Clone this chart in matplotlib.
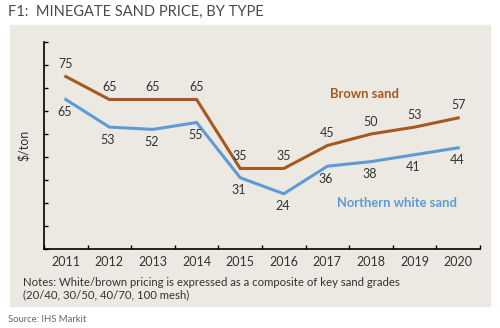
import matplotlib.pyplot as plt
from matplotlib.patches import Rectangle

years = ['2011', '2012', '2013', '2014', '2015', '2016', '2017', '2018', '2019', '2020']
brown = [75, 65, 65, 65, 35, 35, 45, 50, 53, 57]
white = [65, 53, 52, 55, 31, 24, 36, 38, 41, 44]

brown_col = '#a4591f'
blue_col = '#5e9bd6'
panel_col = '#ebe9e2'

plt.rcParams['font.family'] = ['Lato', 'DejaVu Sans']

fig = plt.figure(figsize=(5, 3.28), dpi=100)
W, H = 500, 328

# beige panel behind the chart
fig.patches.append(Rectangle((10 / W, 1 - 306 / H), 480 / W, 281 / H,
                             transform=fig.transFigure, color=panel_col, zorder=-5))

ax = fig.add_axes([44 / W, 1 - 249 / H, 436 / W, 207 / H])
ax.set_zorder(2)
ax.set_facecolor('none')
x = list(range(len(years)))
ax.plot(x, brown, color=brown_col, lw=2.2, solid_joinstyle='miter')
ax.plot(x, white, color=blue_col, lw=2.2, solid_joinstyle='miter')

for i, v in enumerate(brown):
    ax.annotate(str(v), (i, v), xytext=(0, 9), textcoords='offset points',
                ha='center', va='center', fontsize=9, color='#333333')
for i, v in enumerate(white):
    ax.annotate(str(v), (i, v), xytext=(-1, -9), textcoords='offset points',
                ha='center', va='center', fontsize=9, color='#333333')

ax.text(6.86, 67.4, 'Brown sand', color=brown_col, fontsize=9.4, fontweight='bold',
        ha='center', va='center')
ax.text(7.6, 20, 'Northern white sand', color=blue_col, fontsize=9.4, fontweight='bold',
        ha='center', va='center')

ax.set_xlim(-0.5, len(years) - 0.5)
ax.set_ylim(0, 90)
ax.set_yticks(range(0, 91, 10))
ax.set_yticklabels([])
ax.set_xticks(x)
ax.set_xticklabels(years, fontsize=9, color='#333333')
ax.set_xticks([i - 0.5 for i in range(len(years) + 1)], minor=True)
ax.tick_params(axis='x', which='major', length=0, pad=5)
ax.tick_params(axis='x', which='minor', direction='in', length=3, width=1)
ax.tick_params(axis='y', direction='in', length=3, width=1)
for s in ['top', 'right']:
    ax.spines[s].set_visible(False)
for s in ['left', 'bottom']:
    ax.spines[s].set_linewidth(1.2)
ax.set_ylabel('\\$/ton', fontsize=9, color='#333333', labelpad=7)

fig.text(8 / W, 1 - 12 / H, 'F1:  MINEGATE SAND PRICE, BY TYPE', fontsize=10.5,
         color='#4a4a4a', va='center', ha='left')
fig.text(23 / W, 1 - 282 / H,
         'Notes: White/brown pricing is expressed as a composite of key sand grades',
         fontsize=8.2, color='#333333', va='center', ha='left')
fig.text(23 / W, 1 - 295 / H, '(20/40, 30/50, 40/70, 100 mesh)',
         fontsize=8.2, color='#333333', va='center', ha='left')
fig.text(8 / W, 1 - 320 / H, 'Source: IHS Markit', fontsize=6.8,
         color='#666666', va='center', ha='left')

fig.savefig('out.png', dpi=100)
